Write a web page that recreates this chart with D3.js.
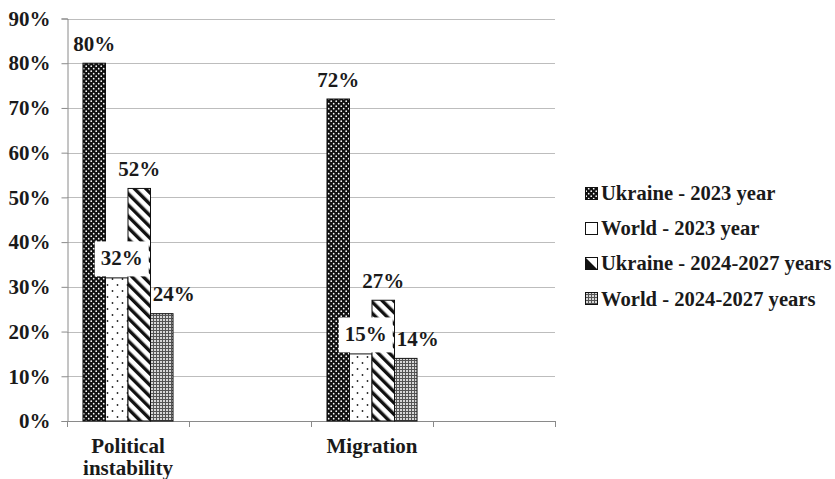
<!DOCTYPE html>
<html>
<head>
<meta charset="utf-8">
<script src="https://cdn.jsdelivr.net/npm/d3@7"></script>
<style>
  html, body { margin: 0; padding: 0; background: #fff; }
  svg { display: block; }
  text { font-family: "Liberation Serif", "Times New Roman", serif; font-weight: bold; fill: #1a1a1a; }
</style>
</head>
<body>
<svg id="chart" width="835" height="479"></svg>
<script>
// Category slots along the x axis (two are empty spacers)
const categories = [["Political", "instability"], [""], ["Migration"], [""]];
const categoryKeys = ["Political instability", "gap1", "Migration", "gap2"];

// Series names and their values (%) per category
const seriesNames = ["Ukraine - 2023 year", "World - 2023 year", "Ukraine - 2024-2027 years", "World - 2024-2027 years"];
const ukraine2023 = [80, null, 72, null];
const world2023 = [32, null, 15, null];
const ukraine2027 = [52, null, 27, null];
const world2027 = [24, null, 14, null];
const seriesValues = [ukraine2023, world2023, ukraine2027, world2027];

const yTicks = [0, 10, 20, 30, 40, 50, 60, 70, 80, 90];

const svg = d3.select("#chart");
const plotLeft = 67, plotRight = 555, plotTop = 18.5, plotBottom = 421;
const fontSize = "21px";

// Fill patterns for each series
const defs = svg.append("defs");
const p0 = defs.append("pattern").attr("id", "pat0").attr("patternUnits", "userSpaceOnUse")
  .attr("width", 5).attr("height", 5);
p0.append("rect").attr("width", 5).attr("height", 5).attr("fill", "#111");
p0.append("circle").attr("cx", 1.2).attr("cy", 1.2).attr("r", 0.85).attr("fill", "#fff");
p0.append("circle").attr("cx", 3.7).attr("cy", 3.7).attr("r", 0.85).attr("fill", "#fff");

const p1 = defs.append("pattern").attr("id", "pat1").attr("patternUnits", "userSpaceOnUse")
  .attr("width", 10).attr("height", 12);
p1.append("rect").attr("width", 10).attr("height", 12).attr("fill", "#fff");
p1.append("circle").attr("cx", 2.5).attr("cy", 3).attr("r", 0.9).attr("fill", "#222");
p1.append("circle").attr("cx", 7.5).attr("cy", 9).attr("r", 0.9).attr("fill", "#222");

const p2 = defs.append("pattern").attr("id", "pat2").attr("patternUnits", "userSpaceOnUse")
  .attr("width", 8).attr("height", 8).attr("patternTransform", "rotate(-45)");
p2.append("rect").attr("width", 8).attr("height", 8).attr("fill", "#fff");
p2.append("rect").attr("x", 0).attr("y", 0).attr("width", 3.4).attr("height", 8).attr("fill", "#111");

const p3 = defs.append("pattern").attr("id", "pat3").attr("patternUnits", "userSpaceOnUse")
  .attr("width", 3).attr("height", 3);
p3.append("rect").attr("width", 3).attr("height", 3).attr("fill", "#555");
p3.append("rect").attr("x", 1).attr("y", 1).attr("width", 2).attr("height", 2).attr("fill", "#d8d8d8");
const fills = ["url(#pat0)", "url(#pat1)", "url(#pat2)", "url(#pat3)"];

// Scales
const x = d3.scaleBand().domain(categoryKeys).range([plotLeft, plotRight]).padding(0);
const xs = d3.scaleBand().domain(d3.range(seriesNames.length)).range([0, x.bandwidth()])
  .paddingInner(0).paddingOuter(0.71);
const y = d3.scaleLinear().domain([0, 90]).range([plotBottom, plotTop]);

// Horizontal gridlines
svg.append("g").selectAll("line").data(yTicks.slice(1)).join("line")
  .attr("x1", plotLeft).attr("x2", plotRight)
  .attr("y1", d => Math.round(y(d)) + 0.5).attr("y2", d => Math.round(y(d)) + 0.5)
  .attr("stroke", "#bdbdbd").attr("stroke-width", 1);

// Y axis
const yAxis = svg.append("g").attr("transform", `translate(${plotLeft + 0.5},0)`)
  .call(d3.axisLeft(y).tickValues(yTicks).tickFormat(d => d + "%").tickSize(6).tickPadding(11));
yAxis.select(".domain").attr("stroke", "#8a8a8a");
yAxis.selectAll(".tick line").attr("stroke", "#8a8a8a");
yAxis.selectAll(".tick text").style("font-size", fontSize).attr("fill", "#1a1a1a")
  .style("font-family", "'Liberation Serif', 'Times New Roman', serif").style("font-weight", "bold");

// X axis line with ticks between categories
const xAxisG = svg.append("g");
xAxisG.append("line").attr("x1", plotLeft).attr("x2", plotRight)
  .attr("y1", plotBottom + 0.5).attr("y2", plotBottom + 0.5).attr("stroke", "#8a8a8a");
const xBounds = categoryKeys.map(k => x(k)).concat([plotRight]);
xAxisG.selectAll("line.tk").data(xBounds).join("line").attr("class", "tk")
  .attr("x1", d => Math.round(d) + 0.5).attr("x2", d => Math.round(d) + 0.5)
  .attr("y1", plotBottom).attr("y2", plotBottom + 6).attr("stroke", "#8a8a8a");

// Category labels
categories.forEach((lines, i) => {
  const cx = x(categoryKeys[i]) + x.bandwidth() / 2;
  const t = svg.append("text").attr("text-anchor", "middle")
    .attr("x", cx).attr("y", 453).style("font-size", fontSize);
  lines.forEach((ln, j) => t.append("tspan").attr("x", cx)
    .attr("dy", j === 0 ? 0 : 22).text(ln));
});

// Bars
const barData = [];
seriesValues.forEach((vals, s) => vals.forEach((v, c) => {
  if (v != null) barData.push({ s, c, v });
}));
svg.append("g").selectAll("rect").data(barData).join("rect")
  .attr("x", d => x(categoryKeys[d.c]) + xs(d.s))
  .attr("y", d => y(d.v))
  .attr("width", xs.bandwidth())
  .attr("height", d => y(0) - y(d.v))
  .attr("fill", d => fills[d.s])
  .attr("stroke", "#111").attr("stroke-width", 1);

// Value labels
const labelDx = [0, 5, 0, 12];
const labels = svg.append("g");
barData.forEach(d => {
  const cx = x(categoryKeys[d.c]) + xs(d.s) + xs.bandwidth() / 2 + labelDx[d.s];
  const by = y(d.v) - 12.5;
  const g = labels.append("g");
  const t = g.append("text").attr("x", cx).attr("y", by).attr("text-anchor", "middle")
    .style("font-size", fontSize).text(d.v + "%");
  if (d.s === 1) {
    const bb = t.node().getBBox();
    g.insert("rect", "text").attr("x", bb.x - 6).attr("y", by - 24)
      .attr("width", bb.width + 12).attr("height", 35).attr("fill", "#fff");
  }
});

// Legend (keys are simplified versions of the bar fills at this small size)
const legendFills = [fills[0], "#fff", "#fff", fills[3]];
const legend = svg.append("g").attr("transform", "translate(585,0)");
seriesNames.forEach((name, i) => {
  const cy = 193 + i * 35.2;
  const ky = Math.round(cy - 6.5) + 0.5;
  legend.append("rect").attr("x", 0.5).attr("y", ky).attr("width", 12).attr("height", 12)
    .attr("fill", legendFills[i]).attr("stroke", "#111").attr("stroke-width", 1);
  if (i === 2) {
    // diagonal hatch reads as a half-filled key
    legend.append("path").attr("d", `M0.5,${ky} L12.5,${ky + 12} L0.5,${ky + 12} Z`).attr("fill", "#111");
  }
  legend.append("text").attr("x", 16).attr("y", cy + 7).style("font-size", "20.6px").text(name);
});
</script>
</body>
</html>
